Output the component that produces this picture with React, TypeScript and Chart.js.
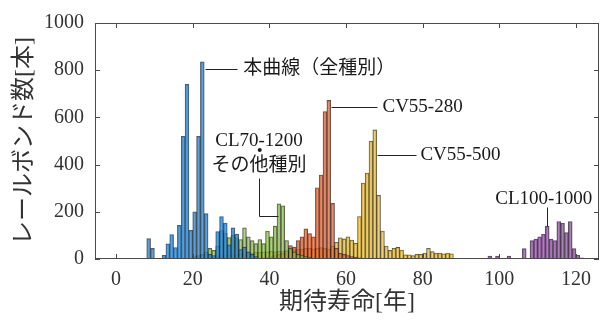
import React, { useEffect, useRef } from 'react';
import { Chart, registerables } from 'chart.js';

Chart.register(...registerables);

const FONT = "'Liberation Serif', 'Noto Sans CJK JP', serif";

// Tick labels
const xTickValues = [0, 20, 40, 60, 80, 100, 120];
const yTickValues = [0, 200, 400, 600, 800, 1000];

// Histogram bins: 1-year bins, first bin start year + counts
const blueStart = 8;
const blueCounts = [86, 45, 0, 0, 16, 64, 104, 48, 143, 520, 740, 122, 200, 520, 835, 192, 20, 15, 116, 180, 152, 60, 132, 106, 40, 50, 30, 20, 10];

const greenStart = 20;
const greenCounts = [10, 15, 20, 30, 45, 37, 55, 120, 110, 91, 100, 90, 82, 132, 94, 78, 65, 82, 65, 118, 94, 139, 234, 225, 78, 45, 30, 20, 15, 10, 8];

const orangeStart = 38;
const orangeCounts = [5, 8, 10, 15, 20, 25, 35, 57, 50, 78, 94, 128, 108, 94, 302, 356, 625, 672, 236, 45, 25, 20, 15, 10, 8, 5];

const yellowStart = 24;
const yellowCounts = [8, 10, 12, 14, 16, 18, 18, 20, 22, 22, 25, 25, 28, 28, 30, 30, 32, 30, 32, 34, 36, 38, 40, 40, 42, 45, 45, 42, 45, 48, 45, 42, 55, 71, 90, 85, 94, 80, 67, 180, 322, 364, 500, 547, 270, 118, 55, 37, 45, 49, 38, 18, 18, 14, 20, 20, 25, 45, 31, 25, 25, 22, 25, 22];

const purpleStart = 97;
const purpleCounts = [12, 0, 12, 0, 0, 12, 0, 0, 0, 44, 0, 78, 84, 94, 105, 139, 84, 78, 159, 152, 112, 159, 44, 16, 5];

const seriesNames = ['本曲線（全種別）', 'CL70-1200・その他種別', 'CV55-280', 'CV55-500', 'CL100-1000'];

// Annotation texts and leader lines (data units)
const annoTexts = [
  { text: '本曲線（全種別）', x: 33.2, y: 805, align: 'left' },
  { text: 'CV55-280', x: 69.5, y: 642, align: 'left' },
  { text: 'CV55-500', x: 79.4, y: 442, align: 'left' },
  { text: 'CL70-1200', x: 37.3, y: 498, align: 'center' },
  { text: '・', x: 37.5, y: 449, align: 'center' },
  { text: 'その他種別', x: 37.3, y: 392, align: 'center' },
  { text: 'CL100-1000', x: 111.6, y: 253, align: 'center' },
];
const annoLines = [
  [[23.2, 805], [31.6, 805]],
  [[56, 642], [68, 642]],
  [[68.2, 442], [78.3, 442]],
  [[37.3, 343], [37.3, 184], [42.3, 184]],
  [[112.5, 139], [112.5, 220]],
];

function toPoints(start: number, counts: number[]) {
  const pts: { x: number; y: number }[] = [];
  counts.forEach((c, i) => {
    if (c > 0) pts.push({ x: start + i + 0.5, y: c });
  });
  return pts;
}

const framePlugin = {
  id: 'frame',
  afterDatasetsDraw(chart: any) {
    const { ctx, chartArea, scales } = chart;
    const { left, right, top, bottom } = chartArea;
    ctx.save();
    ctx.strokeStyle = '#4a4a4a';
    ctx.lineWidth = 1;
    ctx.strokeRect(left + 0.5, top + 0.5, right - left - 1, bottom - top - 1);
    const tl = 5;
    ctx.beginPath();
    xTickValues.forEach((v) => {
      const px = Math.round(scales.x.getPixelForValue(v)) + 0.5;
      ctx.moveTo(px, bottom);
      ctx.lineTo(px, bottom - tl);
      ctx.moveTo(px, top);
      ctx.lineTo(px, top + tl);
    });
    yTickValues.forEach((v) => {
      const py = Math.round(scales.y.getPixelForValue(v)) + 0.5;
      ctx.moveTo(left, py);
      ctx.lineTo(left + tl, py);
      ctx.moveTo(right, py);
      ctx.lineTo(right - tl, py);
    });
    ctx.stroke();
    ctx.restore();
  },
};

const annoPlugin = {
  id: 'anno',
  afterDraw(chart: any) {
    const { ctx, scales } = chart;
    const X = (v: number) => scales.x.getPixelForValue(v);
    const Y = (v: number) => scales.y.getPixelForValue(v);
    ctx.save();
    ctx.strokeStyle = '#222';
    ctx.lineWidth = 1;
    annoLines.forEach((line) => {
      ctx.beginPath();
      line.forEach(([x, y], i) => {
        const px = Math.round(X(x)) + 0.5;
        const py = Math.round(Y(y)) + 0.5;
        if (i === 0) ctx.moveTo(px, py);
        else ctx.lineTo(px, py);
      });
      ctx.stroke();
    });
    ctx.fillStyle = '#1a1a1a';
    ctx.font = `19px ${FONT}`;
    ctx.textBaseline = 'middle';
    annoTexts.forEach((t) => {
      ctx.textAlign = t.align as CanvasTextAlign;
      ctx.fillText(t.text, X(t.x), Y(t.y));
    });
    ctx.restore();
  },
};

export default function App() {
  const ref = useRef<HTMLCanvasElement>(null);
  useEffect(() => {
    document.body.style.margin = '0';
    const edge = 'rgba(30,30,30,0.75)';
    const mk = (label: string, start: number, counts: number[], color: string) => ({
      label,
      data: toPoints(start, counts),
      backgroundColor: color,
      borderColor: edge,
      borderWidth: 0.8,
      borderSkipped: 'start',
    });
    const chart = new Chart(ref.current!, {
      type: 'bar',
      data: {
        datasets: [
          mk(seriesNames[0], blueStart, blueCounts, 'rgba(40,135,215,0.78)'),
          mk(seriesNames[1], greenStart, greenCounts, 'rgba(140,190,70,0.7)'),
          mk(seriesNames[2], orangeStart, orangeCounts, 'rgba(232,95,45,0.72)'),
          mk(seriesNames[3], yellowStart, yellowCounts, 'rgba(238,190,45,0.72)'),
          mk(seriesNames[4], purpleStart, purpleCounts, 'rgba(140,70,160,0.7)'),
        ] as any,
      },
      options: {
        responsive: false,
        animation: false,
        layout: { padding: { top: 14, right: 14, left: 0, bottom: 0 } },
        datasets: { bar: { grouped: false, barPercentage: 1, categoryPercentage: 1 } } as any,
        plugins: { legend: { display: false }, tooltip: { enabled: false } },
        scales: {
          x: {
            type: 'linear',
            min: -5.5,
            max: 126,
            offset: false,
            afterBuildTicks: (s: any) => {
              s.ticks = xTickValues.map((v) => ({ value: v }));
            },
            afterFit: (s: any) => {
              s.height = 62;
            },
            grid: { display: false, drawTicks: false, offset: false },
            border: { display: false },
            ticks: {
              font: { family: FONT, size: 20 },
              color: '#333',
              padding: 9,
              maxRotation: 0,
              callback: (v: any) => String(v),
            },
            title: {
              display: true,
              text: '期待寿命[年]',
              font: { family: FONT, size: 24 },
              color: '#333',
              padding: { top: 0, bottom: 4 },
            },
          },
          y: {
            type: 'linear',
            min: 0,
            max: 1000,
            afterBuildTicks: (s: any) => {
              s.ticks = yTickValues.map((v) => ({ value: v }));
            },
            afterFit: (s: any) => {
              s.width = 95;
            },
            grid: { display: false, drawTicks: false },
            border: { display: false },
            ticks: {
              font: { family: FONT, size: 20 },
              color: '#333',
              padding: 11,
              callback: (v: any) => String(v),
            },
            title: {
              display: true,
              text: 'レールボンド数[本]',
              font: { family: FONT, size: 24 },
              color: '#333',
              padding: { top: 10, bottom: 0 },
            },
          },
        },
      } as any,
      plugins: [framePlugin, annoPlugin],
    });
    return () => chart.destroy();
  }, []);
  return (
    <div style={{ width: 613, height: 321 }}>
      <canvas ref={ref} width={613} height={321} />
    </div>
  );
}
